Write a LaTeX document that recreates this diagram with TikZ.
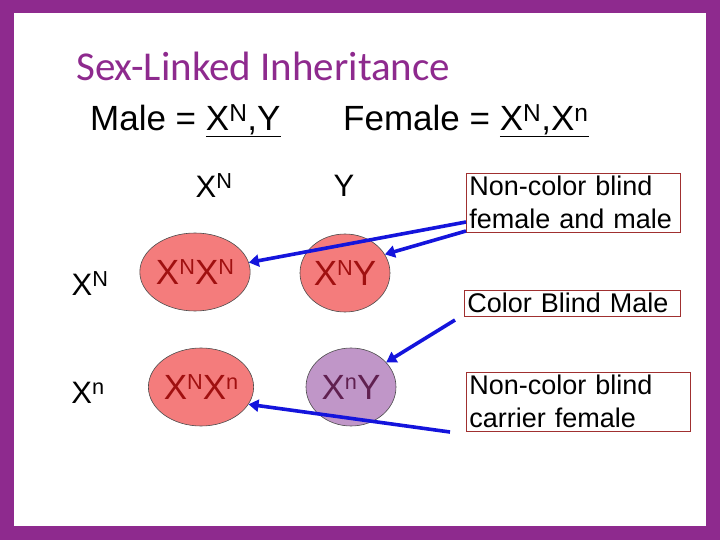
\documentclass[tikz,border=0pt]{standalone}
\usepackage{fontspec}
\setmainfont{Liberation Sans}
\newfontfamily\titlefont{Carlito}
\usetikzlibrary{arrows.meta,shapes.geometric}
\definecolor{frame}{HTML}{8E2A8E}
\definecolor{cellred}{HTML}{F47C7C}
\definecolor{cellpurple}{HTML}{C096C8}
\definecolor{txtred}{HTML}{A01010}
\definecolor{txtpurple}{HTML}{602050}
\definecolor{boxred}{HTML}{A03030}
\newcommand\mysup[1]{\raisebox{0.28em}{\fontsize{0.62em}{0.62em}\selectfont #1}}
\tikzset{
  cell/.style={ellipse, draw=black!70, line width=0.6pt, minimum width=90pt, minimum height=78pt, inner sep=0pt, font=\fontsize{35}{35}\selectfont},
  lbl/.style={font=\fontsize{31}{31}\selectfont, inner sep=0pt},
  note/.style={draw=boxred, line width=0.8pt, font=\fontsize{27}{33}\selectfont, align=left, inner sep=3pt, anchor=north west},
  arr/.style={draw={rgb,255:red,20;green,20;blue,220}, line width=3.6pt, -{Triangle[length=10pt,width=12pt]}}
}
\begin{document}
\begin{tikzpicture}[x=1pt,y=-1pt]
\useasboundingbox (0,0) rectangle (720,540);
\fill[frame] (0,0) rectangle (720,540);
\fill[white] (14,13) rectangle (706,526);
\node[anchor=west, text=frame, font=\titlefont\fontsize{41}{41}\selectfont, inner sep=0pt] (title) at (76,66) {Sex-Linked Inheritance};
\node[anchor=west, font=\fontsize{35}{35}\selectfont, inner sep=0pt] (male) at (90,121) {Male = \underline{X\textsuperscript{N},Y}};
\node[anchor=west, font=\fontsize{35}{35}\selectfont, inner sep=0pt] (female) at (343,121) {Female = \underline{X\textsuperscript{N},X\textsuperscript{n}}};
\node[lbl] (c1) at (214,186) {X\textsuperscript{N}};
\node[lbl] (c2) at (344,186) {Y};
\node[lbl] (r1) at (90,284) {X\textsuperscript{N}};
\node[lbl] (r2) at (88,393) {X\textsuperscript{n}};
\node[cell, fill=cellred, text=txtred] (a) at (195,272) {X\mysup{N}X\mysup{N}};
\node[cell, fill=cellred, text=txtred] (b) at (345,273) {X\mysup{N}Y};
\node[cell, fill=cellred, text=txtred] (c) at (201,387) {X\mysup{N}X\mysup{n}};
\node[cell, fill=cellpurple, text=txtpurple] (d) at (351,387) {X\mysup{n}Y};
\node[note, text width=208pt] (n1) at (466,173) {Non-color blind\\female and male};
\node[note, text width=210pt] (n2) at (464,290) {Color Blind Male};
\node[note, text width=218pt] (n3) at (466,372) {Non-color blind\\carrier female};
\coordinate (s1) at (466,222);
\coordinate (s2) at (466,231);
\coordinate (s3) at (455,320);
\coordinate (s4) at (450,432);
\draw[arr] (s1) -- (a.10);
\draw[arr] (s2) -- (b.25);
\draw[arr] (s3) -- (d.35);
\draw[arr] (s4) -- (c.-20);
\end{tikzpicture}
\end{document}
